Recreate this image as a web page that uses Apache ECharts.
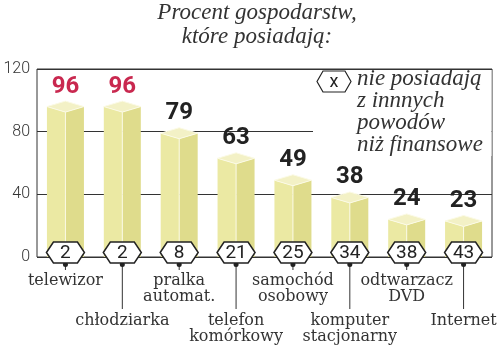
<!DOCTYPE html>
<html><head><meta charset="utf-8">
<script src="https://cdn.jsdelivr.net/npm/echarts@6/dist/echarts.min.js"></script>
<style>html,body{margin:0;padding:0;background:#fff}#c{width:500px;height:347px}</style>
</head><body><div id="c"></div>
<script>
var categories = ['telewizor', 'chłodziarka', 'pralka\nautomat.', 'telefon\nkomórkowy', 'samochód\nosobowy', 'komputer\nstacjonarny', 'odtwarzacz\nDVD', 'Internet'];
var owningValues = [96, 96, 79, 63, 49, 38, 24, 23];
var notOwningOther = [2, 2, 8, 21, 25, 34, 38, 43];
var yTicks = [0, 40, 80, 120];
var titleText = 'Procent gospodarstw,\nktóre posiadają:';
var legendSymbol = 'x';
var legendText = 'nie posiadają\nz innnych\npowodów\nniż finansowe';

var chart = echarts.init(document.getElementById('c'), null, {renderer: 'canvas'});
var maxVal = Math.max.apply(null, owningValues);
var SERIF = '"Liberation Serif", "DejaVu Serif", serif';
var NARROW = '"Liberation Sans Narrow", "Roboto", sans-serif';

function hexPoints(cx, cy, hw, hh, tip) {
  return [[cx - hw, cy], [cx - hw + tip, cy - hh], [cx + hw - tip, cy - hh], [cx + hw, cy], [cx + hw - tip, cy + hh], [cx - hw + tip, cy + hh]];
}

function renderBar(params, api) {
  var i = api.value(0), v = api.value(1);
  var top = api.coord([i, v]);
  var base = api.coord([i, 0]);
  var cx = top[0], yt = top[1], yb = base[1];
  var hw = 18.5, dh = 5.5;
  return {
    type: 'group',
    children: [
      {type: 'polygon', shape: {points: [[cx - hw, yt], [cx, yt + dh], [cx, yb], [cx - hw, yb]]}, style: {fill: '#ebe9a3'}},
      {type: 'polygon', shape: {points: [[cx, yt + dh], [cx + hw, yt], [cx + hw, yb], [cx, yb]]}, style: {fill: '#dfdc8c'}},
      {type: 'polygon', shape: {points: [[cx - hw, yt], [cx, yt - dh], [cx + hw, yt], [cx, yt + dh]]}, style: {fill: '#f3f1c6', stroke: '#fbfae6', lineWidth: 1}},
      {type: 'line', shape: {x1: cx, y1: yt + dh, x2: cx, y2: yb}, style: {stroke: '#fbfae6', lineWidth: 1}},
      {type: 'text', x: cx, y: yt - 20, style: {text: String(v), align: 'center', verticalAlign: 'middle',
        font: 'bold 24px Roboto, sans-serif', fill: v === maxVal ? '#c9284f' : '#222'}}
    ]
  };
}

function renderHex(params, api) {
  var i = api.value(0), n = api.value(1);
  var p = api.coord([i, 0]);
  var cx = p[0], cy = p[1] - 4.5;
  var idx = params.dataIndex;
  var low = idx % 2 === 1;
  var lineEnd = low ? 309 : 270;
  var labelY = low ? 313 : 273;
  return {
    type: 'group',
    children: [
      {type: 'line', shape: {x1: cx, y1: cy + 12, x2: cx, y2: lineEnd}, style: {stroke: '#333', lineWidth: 1}},
      {type: 'circle', shape: {cx: cx, cy: cy + 12, r: 2.5}, style: {fill: '#222'}},
      {type: 'polygon', shape: {points: hexPoints(cx, cy, 19, 10.5, 7)}, style: {fill: '#fff', stroke: '#222', lineWidth: 1.5}},
      {type: 'text', x: cx, y: cy + 1, style: {text: String(n), align: 'center', verticalAlign: 'middle', font: '19px ' + NARROW, fill: '#222'}},
      {type: 'text', x: cx, y: labelY, style: {text: categories[idx], align: 'center', verticalAlign: 'top', font: '16px "DejaVu Serif", serif', lineHeight: 16, fill: '#333'}}
    ]
  };
}

chart.setOption({
  animation: false,
  grid: {left: 37, right: 8, top: 69, bottom: 90, show: true, borderColor: '#333', borderWidth: 1, backgroundColor: 'transparent'},
  xAxis: {type: 'category', data: categories, axisLine: {show: false}, axisTick: {show: false}, axisLabel: {show: false}},
  yAxis: {type: 'value', min: yTicks[0], max: yTicks[yTicks.length - 1], interval: yTicks[1] - yTicks[0],
    axisLine: {show: false}, axisTick: {show: false},
    axisLabel: {color: '#333', fontFamily: 'Roboto, sans-serif', fontWeight: 300, fontSize: 16, margin: 7},
    splitLine: {lineStyle: {color: '#333', width: 1}}},
  graphic: [
    {type: 'text', x: 257, y: 1, z: 100, style: {text: titleText, font: 'italic 23px ' + SERIF, lineHeight: 24, fill: '#333', align: 'center', textAlign: 'center'}},
    {type: 'rect', z: 100, shape: {x: 313, y: 70, width: 178.5, height: 86}, style: {fill: '#fff'}},
    {type: 'polygon', z: 101, shape: {points: hexPoints(334, 81.5, 17, 10.5, 6)}, style: {fill: '#fff', stroke: '#222', lineWidth: 1.2}},
    {type: 'text', z: 101, x: 334, y: 82, style: {text: legendSymbol, align: 'center', textAlign: 'center', verticalAlign: 'middle', textVerticalAlign: 'middle', font: '18px ' + NARROW, fill: '#222'}},
    {type: 'text', z: 101, x: 357, y: 68, style: {text: legendText, font: 'italic 23px ' + SERIF, lineHeight: 22, fill: '#333'}}
  ],
  series: [
    {type: 'custom', renderItem: renderBar, data: owningValues.map(function (v, i) { return [i, v]; }), z: 3, clip: false},
    {type: 'custom', renderItem: renderHex, data: notOwningOther.map(function (v, i) { return [i, v]; }), z: 4, clip: false}
  ]
});
</script></body></html>
